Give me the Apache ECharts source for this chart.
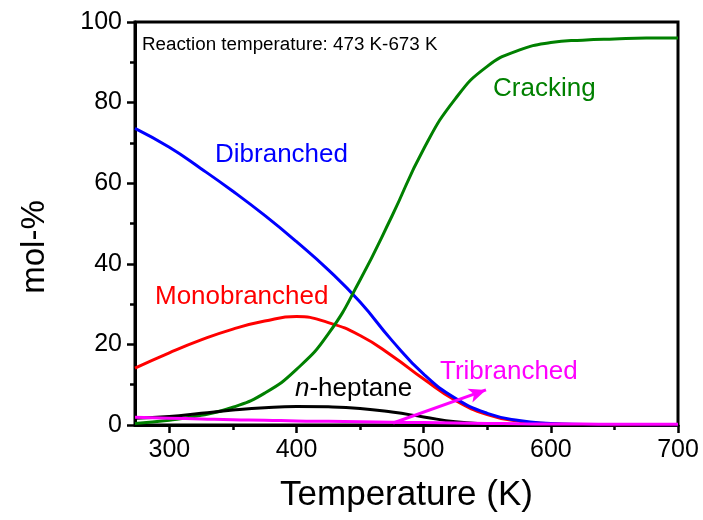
<!DOCTYPE html>
<html>
<head>
<meta charset="utf-8">
<script src="https://cdn.jsdelivr.net/npm/echarts@6/dist/echarts.min.js"></script>
<style>
html,body{margin:0;padding:0;background:#fff;}
#chart{width:703px;height:520px;}
</style>
</head>
<body>
<div id="chart"></div>
<script>
// Temperatures (K)
const temps = [273, 300, 325, 350, 375, 400, 425, 450, 475, 500, 525, 550, 575, 600, 625, 650, 675, 700];
// mol-% values per product class
const dibranched   = [73.6, 68.9, 63.6, 58.0, 52.0, 45.5, 38.5, 30.5, 21.0, 12.6, 6.6, 2.9, 1.1, 0.4, 0.15, 0.06, 0.02, 0.0];
const monobranched = [14.1, 17.9, 21.1, 23.8, 25.8, 26.9, 25.4, 22.2, 17.2, 11.4, 6.1, 2.6, 0.9, 0.3, 0.1, 0.03, 0.01, 0.0];
const cracking     = [0.4, 1.2, 2.4, 4.4, 7.9, 13.8, 22.6, 36.0, 51.8, 68.5, 81.0, 89.0, 93.0, 94.9, 95.5, 95.8, 96.0, 96.0];
const heptane      = [1.7, 2.1, 2.9, 3.7, 4.3, 4.6, 4.5, 4.1, 3.2, 2.0, 0.8, 0.3, 0.1, 0.05, 0.02, 0.01, 0.0, 0.0];
const tribranched  = [1.9, 1.7, 1.5, 1.3, 1.2, 1.0, 0.9, 0.8, 0.7, 0.6, 0.5, 0.4, 0.3, 0.25, 0.22, 0.2, 0.2, 0.2];
// Arrow annotation (K, mol-%)
const arrowStart = [476, 0.5];
const arrowEnd = [549, 8.7];
// Axis ticks
const xMajorTicks = [300, 400, 500, 600, 700];
const xMinorTicks = [350, 450, 550, 650];

const FONT = '"Liberation Sans", Arial, Helvetica, sans-serif';
const pair = (ys) => temps.map((t, i) => [t, ys[i]]);

const chart = echarts.init(document.getElementById('chart'));
const lineSeries = (name, ys, color, extra) => Object.assign({
  name, type: 'line', data: pair(ys), smooth: 0.5, showSymbol: false, symbol: 'none',
  lineStyle: { color, width: 3 }, itemStyle: { color }, z: 3
}, extra || {});

chart.setOption({
  animation: false,
  backgroundColor: '#fff',
  grid: { left: 135, right: 25, top: 22, bottom: 95, show: true, borderColor: '#000', borderWidth: 3, backgroundColor: 'transparent' },
  xAxis: [{
    type: 'value', min: 273, max: 700, position: 'bottom',
    name: 'Temperature (K)', nameLocation: 'middle', nameGap: 53,
    nameTextStyle: { fontSize: 35, color: '#000', fontFamily: FONT },
    axisLine: { show: true, lineStyle: { color: '#000', width: 3 } },
    axisTick: { show: true, inside: false, length: 8, customValues: xMajorTicks, lineStyle: { color: '#000', width: 2.5 } },
    axisLabel: { customValues: xMajorTicks, fontSize: 25, color: '#000', fontFamily: FONT, margin: 13 },
    splitLine: { show: false }
  }, {
    type: 'value', min: 273, max: 700, position: 'bottom', offset: 0,
    axisLine: { show: false },
    axisTick: { show: true, inside: false, length: 5, customValues: xMinorTicks, lineStyle: { color: '#000', width: 2.5 } },
    axisLabel: { show: false },
    splitLine: { show: false }
  }],
  yAxis: {
    type: 'value', min: 0, max: 100, interval: 20,
    axisLine: { show: true, lineStyle: { color: '#000', width: 3 } },
    axisTick: { show: true, inside: false, length: 8, lineStyle: { color: '#000', width: 2.5 } },
    minorTick: { show: true, splitNumber: 2, length: 5, lineStyle: { color: '#000', width: 2.5 } },
    axisLabel: { fontSize: 25, color: '#000', fontFamily: FONT, margin: 13 },
    splitLine: { show: false }, minorSplitLine: { show: false }
  },
  series: [
    lineSeries('Monobranched', monobranched, '#ff0000'),
    lineSeries('Dibranched', dibranched, '#0000ff'),
    lineSeries('Cracking', cracking, '#008000'),
    lineSeries('n-heptane', heptane, '#000000'),
    lineSeries('Tribranched', tribranched, '#ff00ff', {
      markLine: {
        silent: true, symbol: ['none', 'arrow'], symbolSize: [11, 17], animation: false,
        label: { show: false },
        lineStyle: { color: '#ff00ff', width: 3, type: 'solid' },
        data: [[{ coord: arrowStart }, { coord: arrowEnd }]]
      }
    })
  ],
  graphic: [
    { type: 'text', x: 35, y: 247, rotation: Math.PI / 2, style: { text: 'mol-%', font: '33px ' + FONT, fill: '#000', align: 'center', verticalAlign: 'middle', textAlign: 'center', textVerticalAlign: 'middle' } },
    { type: 'text', x: 142, y: 45, style: { text: 'Reaction temperature: 473 K-673 K', font: '18.8px ' + FONT, fill: '#000', verticalAlign: 'middle', textVerticalAlign: 'middle' } },
    { type: 'text', x: 215, y: 155, style: { text: 'Dibranched', font: '26px ' + FONT, fill: '#0000ff', verticalAlign: 'middle', textVerticalAlign: 'middle' } },
    { type: 'text', x: 493, y: 89, style: { text: 'Cracking', font: '26px ' + FONT, fill: '#008000', verticalAlign: 'middle', textVerticalAlign: 'middle' } },
    { type: 'text', x: 155, y: 297, style: { text: 'Monobranched', font: '26px ' + FONT, fill: '#ff0000', verticalAlign: 'middle', textVerticalAlign: 'middle' } },
    { type: 'text', x: 295, y: 389, style: { text: '{i|n}-heptane', font: '26px ' + FONT, fill: '#000', verticalAlign: 'middle', textVerticalAlign: 'middle',
        rich: { i: { fontStyle: 'italic', fontSize: 26, fontFamily: FONT, fill: '#000' } } } },
    { type: 'text', x: 440, y: 372, style: { text: 'Tribranched', font: '26px ' + FONT, fill: '#ff00ff', verticalAlign: 'middle', textVerticalAlign: 'middle' } }
  ]
});
</script>
</body>
</html>
